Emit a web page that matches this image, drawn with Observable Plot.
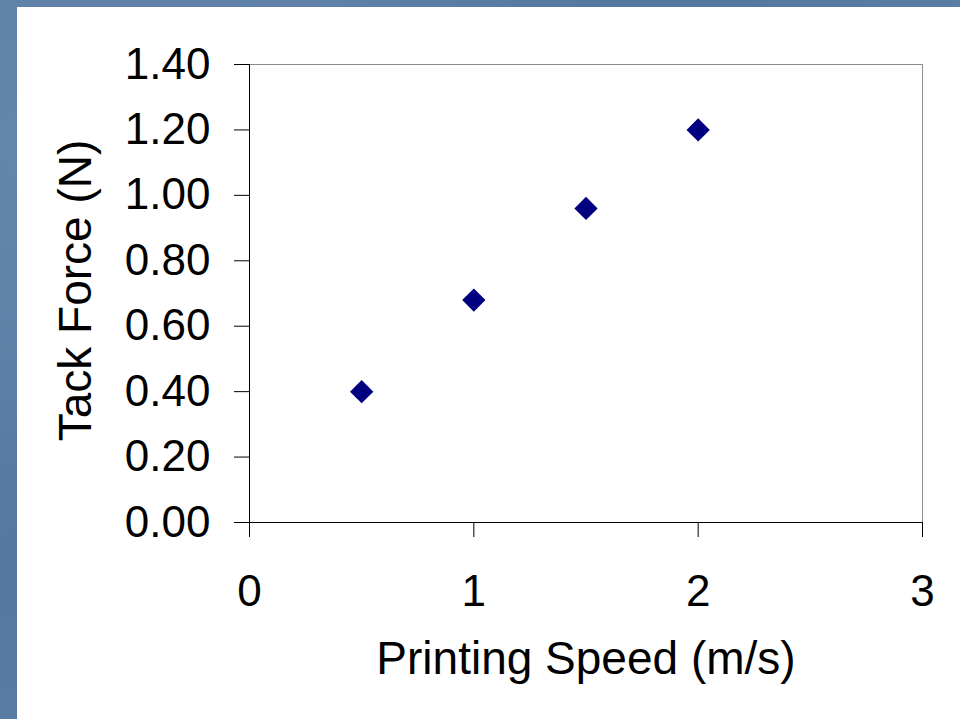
<!DOCTYPE html>
<html>
<head>
<meta charset="utf-8">
<script src="https://cdn.jsdelivr.net/npm/d3@7"></script>
<script src="https://cdn.jsdelivr.net/npm/@observablehq/plot@0.6"></script>
<style>
  html, body { margin: 0; padding: 0; }
  body {
    width: 960px; height: 719px; overflow: hidden; position: relative;
    background-color: #5b7ea6;
    background-image:
      radial-gradient(ellipse at 10% 20%, rgba(120,150,185,0.35), rgba(0,0,0,0) 40%),
      radial-gradient(ellipse at 70% 5%, rgba(70,105,145,0.35), rgba(0,0,0,0) 35%),
      radial-gradient(ellipse at 5% 80%, rgba(75,110,150,0.4), rgba(0,0,0,0) 30%);
    font-family: "Liberation Sans", Arial, sans-serif;
  }
  #panel { position: absolute; left: 17px; top: 7px; width: 943px; height: 712px; background: #fff; }
</style>
</head>
<body>
<div id="panel"></div>
<script>
// Data
const speed = [0.5, 1, 1.5, 2];
const tackForce = [0.40, 0.68, 0.96, 1.20];
const xTicks = [0, 1, 2, 3];
const yTicks = [0, 0.2, 0.4, 0.6, 0.8, 1.0, 1.2, 1.4];
const xLabel = "Printing Speed (m/s)";
const yLabel = "Tack Force (N)";

const data = speed.map((s, i) => ({speed: s, force: tackForce[i]}));

const chart = Plot.plot({
  width: 943,
  height: 712,
  marginLeft: 232,
  marginRight: 38,
  marginTop: 57,
  marginBottom: 197,
  style: {background: "#fff", fontFamily: "'Liberation Sans', Arial, sans-serif", color: "#000", overflow: "visible"},
  x: {domain: [0, 3]},
  y: {domain: [0, 1.4]},
  marks: [
    Plot.frame({stroke: "#8c8c8c", strokeWidth: 1}),
    Plot.ruleY([0], {stroke: "#000", strokeWidth: 1}),
    Plot.ruleX([0], {stroke: "#000", strokeWidth: 1}),
    Plot.axisY({ticks: yTicks, tickFormat: d => d.toFixed(2), tickSize: 15, tickPadding: 24, fontSize: 44, label: null, stroke: "#000"}),
    Plot.axisX({ticks: xTicks, tickFormat: d => String(d), tickSize: 15, tickPadding: 37, fontSize: 44, label: null, stroke: "#000"}),
    Plot.text([xLabel], {frameAnchor: "bottom", lineAnchor: "bottom", textAnchor: "middle", dy: 151, fontSize: 46, fill: "#000"}),
    Plot.text([yLabel], {frameAnchor: "left", lineAnchor: "bottom", textAnchor: "middle", rotate: -90, dx: -159, dy: -3, fontSize: 46, fill: "#000"}),
    Plot.dot(data, {x: "speed", y: "force", symbol: "diamond2", r: 10.5, fill: "#000080", stroke: "none"})
  ]
});
document.getElementById("panel").appendChild(chart);
</script>
</body>
</html>
